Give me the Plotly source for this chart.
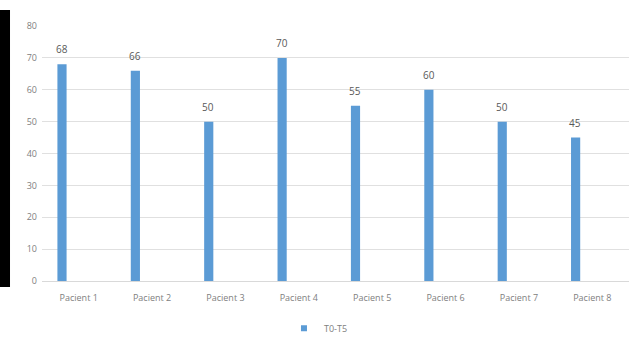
import plotly.graph_objects as go

categories = ["Pacient 1", "Pacient 2", "Pacient 3", "Pacient 4",
              "Pacient 5", "Pacient 6", "Pacient 7", "Pacient 8"]
values = [68, 66, 50, 70, 55, 60, 50, 45]
series_name = "T0-T5"
y_ticks = [0, 10, 20, 30, 40, 50, 60, 70, 80]

grey = "#808080"
bar_color = "#5B9BD5"
fig = go.Figure()
fig.add_trace(go.Bar(
    x=categories, y=values, name=series_name, showlegend=False,
    marker=dict(color=bar_color, line=dict(width=0)),
    width=0.125, offset=-0.29,
))
# legend entry with a small square swatch
fig.add_trace(go.Scatter(
    x=[None], y=[None], mode="markers", name=series_name,
    marker=dict(symbol="square", size=6, color=bar_color),
))

# value labels above the bars
annotations = [
    dict(x=c, y=v, text=str(v), showarrow=False, xref="x", yref="y",
         yanchor="bottom", xshift=-17, yshift=6,
         font=dict(color="#595959", size=10))
    for c, v in zip(categories, values)
]

fig.update_layout(
    width=635, height=344,
    margin=dict(l=42, r=6, t=26, b=63),
    paper_bgcolor="white", plot_bgcolor="white",
    font=dict(family="Open Sans, Liberation Sans, sans-serif", size=9, color=grey),
    showlegend=True,
    legend=dict(orientation="h", x=0.471, xanchor="center",
                yref="container", y=0.046, yanchor="middle",
                font=dict(size=9, color=grey), itemwidth=30),
    annotations=annotations,
    xaxis=dict(showgrid=False, showline=True, linecolor="#d9d9d9", linewidth=1,
               ticks="", tickfont=dict(size=9, color=grey), ticklabelstandoff=8),
    yaxis=dict(range=[0, 80], tickvals=y_ticks, showgrid=True, gridcolor="#e0e0e0",
               gridwidth=1, zeroline=False, showline=False, ticks="",
               tickfont=dict(size=9, color=grey), ticklabelstandoff=4),
    shapes=[dict(type="rect", xref="paper", yref="paper",
                 x0=-0.0716, x1=-0.0545, y0=-0.0235, y1=1.063,
                 fillcolor="black", line=dict(width=0), layer="above")],
)

fig.write_html("out.html")
